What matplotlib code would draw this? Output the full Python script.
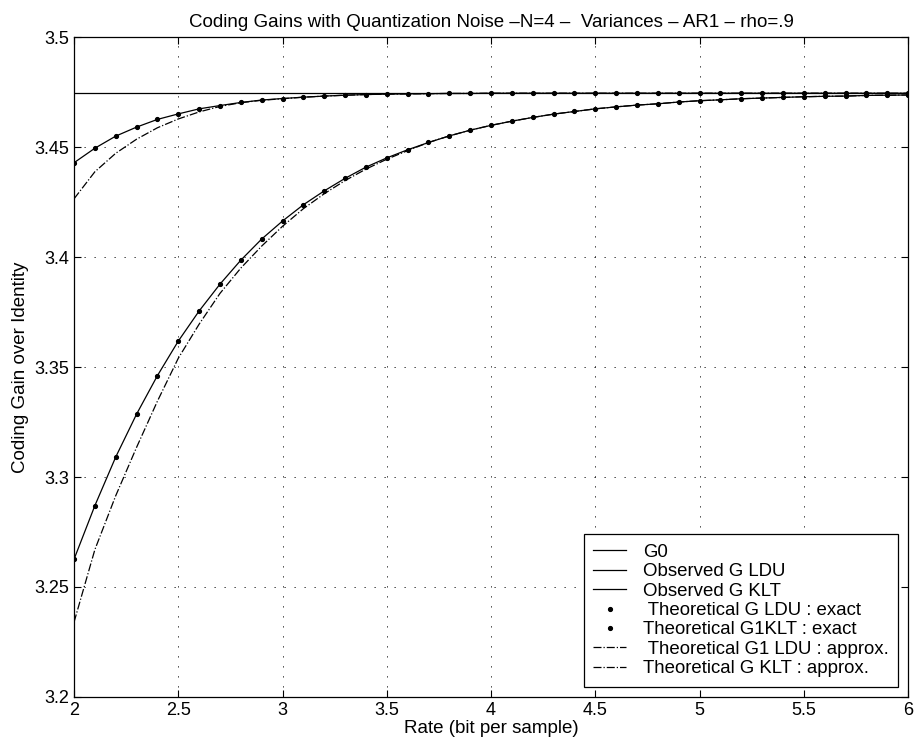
import matplotlib
matplotlib.use("Agg")
import matplotlib.pyplot as plt
import numpy as np

plt.rcParams['font.family'] = ['Liberation Sans', 'DejaVu Sans']

# rate axis (bit per sample)
rate = np.linspace(2.0, 6.0, 41)

g0 = 3.4748

# observed / exact theoretical gains (dots sit on the observed curves)
g_ldu = [3.2626, 3.2870, 3.3091, 3.3286, 3.3461, 3.3618, 3.3755, 3.3877, 3.3986, 3.4082,
         3.4164, 3.4238, 3.4301, 3.4358, 3.4409, 3.4451, 3.4488, 3.4521, 3.4551, 3.4577,
         3.4599, 3.4618, 3.4635, 3.4650, 3.4662, 3.4674, 3.4683, 3.4691, 3.4697, 3.4705,
         3.4711, 3.4715, 3.4720, 3.4723, 3.4726, 3.4729, 3.4731, 3.4732, 3.4735, 3.4736,
         3.4737]
g_klt = [3.4429, 3.4495, 3.4550, 3.4591, 3.4626, 3.4651, 3.4674, 3.4689, 3.4703, 3.4714,
         3.4721, 3.4727, 3.4732, 3.4736, 3.4739, 3.4741, 3.4742, 3.4743, 3.4744, 3.4744,
         3.4745, 3.4745, 3.4745, 3.4745, 3.4745, 3.4745, 3.4745, 3.4745, 3.4745, 3.4745,
         3.4745, 3.4745, 3.4745, 3.4745, 3.4745, 3.4745, 3.4745, 3.4745, 3.4745, 3.4745,
         3.4745]

# approximations (dash-dot)
g1_ldu_approx = [3.2340, 3.2670, 3.2915, 3.3135, 3.3345, 3.3540, 3.3695, 3.3835, 3.3950, 3.4050,
                 3.4140, 3.4220, 3.4288, 3.4348, 3.4400, 3.4445, 3.4484, 3.4521, 3.4551, 3.4577,
                 3.4599, 3.4618, 3.4635, 3.4650, 3.4662, 3.4674, 3.4683, 3.4691, 3.4697, 3.4705,
                 3.4711, 3.4715, 3.4720, 3.4723, 3.4726, 3.4729, 3.4731, 3.4732, 3.4735, 3.4736,
                 3.4737]
g_klt_approx = [3.4265, 3.4388, 3.4472, 3.4536, 3.4588, 3.4628, 3.4660, 3.4685, 3.4702, 3.4713,
                3.4720, 3.4727, 3.4732, 3.4736, 3.4739, 3.4741, 3.4742, 3.4743, 3.4744, 3.4744,
                3.4745, 3.4745, 3.4745, 3.4745, 3.4745, 3.4745, 3.4745, 3.4745, 3.4745, 3.4745,
                3.4745, 3.4745, 3.4745, 3.4745, 3.4745, 3.4745, 3.4745, 3.4745, 3.4745, 3.4745,
                3.4745]

fig = plt.figure(figsize=(9.14, 7.43), dpi=100)
ax = fig.add_axes([0.081, 0.062, 0.9125, 0.888])

ax.axhline(g0, color='black', lw=0.9, label='G0')
ax.plot(rate, g_ldu, '-', color='black', lw=0.9, label='Observed G LDU')
ax.plot(rate, g_klt, '-', color='black', lw=0.9, label='Observed G KLT')
ax.plot(rate, g_ldu, '.', color='black', ms=5.5, label=' Theoretical G LDU : exact')
ax.plot(rate, g_klt, '.', color='black', ms=5.5, label='Theoretical G1KLT : exact')
ax.plot(rate, g1_ldu_approx, '-.', color='black', lw=0.9, label=' Theoretical G1 LDU : approx.')
ax.plot(rate, g_klt_approx, '-.', color='black', lw=0.9, label='Theoretical G KLT : approx.')

ax.set_xlim(2, 6)
ax.set_ylim(3.2, 3.5)
ax.set_xticks([2, 2.5, 3, 3.5, 4, 4.5, 5, 5.5, 6])
ax.set_xticklabels(['2', '2.5', '3', '3.5', '4', '4.5', '5', '5.5', '6'])
ax.set_yticks([3.2, 3.25, 3.3, 3.35, 3.4, 3.45, 3.5])
ax.set_yticklabels(['3.2', '3.25', '3.3', '3.35', '3.4', '3.45', '3.5'])
ax.tick_params(direction='in', top=True, right=True, labelsize=13, length=5)
ax.grid(True, linestyle=(0, (1.5, 10.5)), color='black', lw=0.6)
for s in ax.spines.values():
    s.set_linewidth(0.9)

ax.set_title('Coding Gains with Quantization Noise \u2013N=4 \u2013  Variances \u2013 AR1 \u2013 rho=.9',
             fontsize=13.5, pad=7)
ax.set_xlabel('Rate (bit per sample)', fontsize=13.5, labelpad=1)
ax.set_ylabel('Coding Gain over Identity', fontsize=13.5, labelpad=4)

leg = ax.legend(loc='lower right', fontsize=13.4, numpoints=1, handlelength=1.75,
                fancybox=False, framealpha=1, edgecolor='black', borderaxespad=0.55,
                labelspacing=0.13, borderpad=0.5, handletextpad=0.9)
leg.get_frame().set_linewidth(0.9)

fig.savefig('out.png', dpi=100)
